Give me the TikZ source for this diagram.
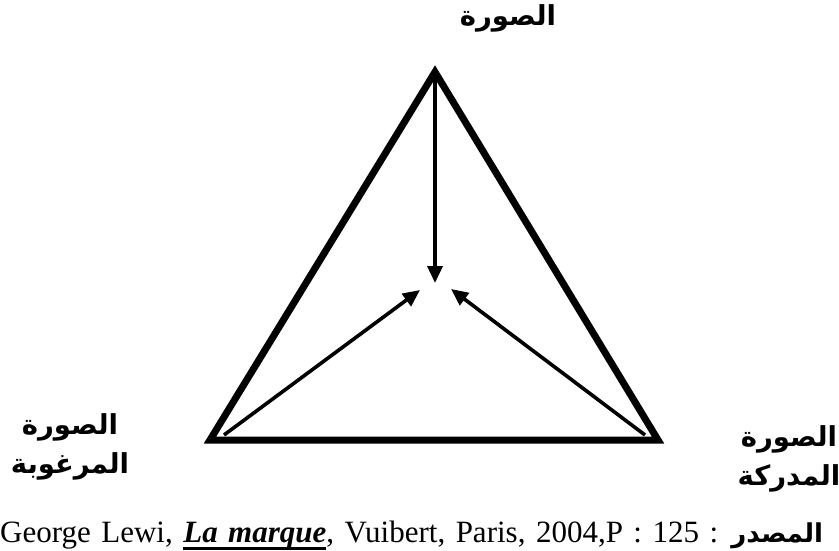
\documentclass[tikz,border=0pt]{standalone}
\usepackage{fontspec}
\setmainfont{Liberation Serif}
\newfontfamily\arabicfont[Script=Arabic]{DejaVu Sans}
\TeXXeTstate=1
\usetikzlibrary{arrows.meta}
\newcommand\myul[1]{\setbox0\hbox{#1}\rlap{\rule[-8pt]{\wd0}{2.6pt}}\box0}
\tikzset{
  tri/.style={line width=7pt, line join=miter},
  arr/.style={line width=3.6pt, -{Triangle[length=17pt,width=15pt]}},
  lab/.style={font=\arabicfont\bfseries\fontsize{27.5}{39}\selectfont, align=center, inner sep=0pt},
}
\begin{document}
\begin{tikzpicture}[x=1pt,y=-1pt]
\useasboundingbox (0,0) rectangle (839,551);
\coordinate (A) at (435,72);
\coordinate (B) at (210,440);
\coordinate (C) at (658,440);
\draw[tri] (A) -- (B) -- (C) -- cycle;
\coordinate (TA) at (435,78);
\coordinate (HA) at (435,283);
\coordinate (TB) at (224,435);
\coordinate (HB) at (420,290);
\coordinate (TC) at (645,435);
\coordinate (HC) at (451,289);
\draw[arr] (TA) -- (HA);
\draw[arr] (TB) -- (HB);
\draw[arr] (TC) -- (HC);
\node[lab] (top) at (508,18) {\beginR الصورة\endR};
\node[lab] (left) at (70,447) {\beginR الصورة\endR\\\beginR المرغوبة\endR};
\node[lab] (right) at (789,459) {\beginR الصورة\endR\\\beginR المدركة\endR};
\node[anchor=base west, inner sep=0pt, font=\fontsize{31}{34}\selectfont] (src) at (0,542)
 {\spaceskip=10.5pt\relax George Lewi, \myul{\textbf{\textit{La marque}}}, Vuibert, Paris, 2004,P : 125 : {\arabicfont\bfseries\fontsize{26}{30}\selectfont\beginR المصدر\endR}};
\end{tikzpicture}
\end{document}
